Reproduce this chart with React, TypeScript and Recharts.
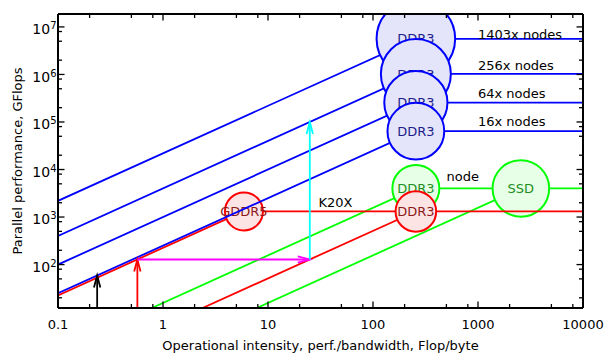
import React from 'react';
import { ComposedChart, Line, XAxis, YAxis, ReferenceDot, ReferenceLine } from 'recharts';

// ---- axes ----
const X_DOMAIN: [number, number] = [0.1, 10000];
const Y_DOMAIN: [number, number] = [12.2, 1.87e7];
const X_TICKS = [0.1, 0.2, 0.5, 0.8, 1, 2, 5, 8, 10, 20, 50, 80, 100, 200, 500, 800, 1000, 2000, 5000, 8000, 10000];
const Y_TICKS = [20, 50, 80, 100, 200, 500, 800, 1e3, 2e3, 5e3, 8e3, 1e4, 2e4, 5e4, 8e4, 1e5, 2e5, 5e5, 8e5, 1e6, 2e6, 5e6, 8e6, 1e7];
const X_TICK_LABELS: Record<string, string> = { '0.1': '0.1', '1': '1', '10': '10', '100': '100', '1000': '1000', '10000': '10000' };
const X_TITLE = 'Operational intensity, perf./bandwidth, Flop/byte';
const Y_TITLE = 'Parallel performance, GFlops';

// ---- rooflines (x: Flop/byte, y: GFlops) ----
const greenNode = [{ x: 0.781, y: 12.2 }, { x: 256, y: 4000 }, { x: 10000, y: 4000 }];
const greenSsd = [{ x: 7.81, y: 12.2 }, { x: 2560, y: 4000 }];
const redGddr5 = [{ x: 0.1, y: 22.5 }, { x: 5.82, y: 1310 }, { x: 10000, y: 1310 }];
const redDdr3 = [{ x: 2.38, y: 12.2 }, { x: 256, y: 1310 }];
const blue1403 = [{ x: 0.1, y: 2190 }, { x: 256, y: 5.61e6 }, { x: 10000, y: 5.61e6 }];
const blue256 = [{ x: 0.1, y: 400 }, { x: 256, y: 1.024e6 }, { x: 10000, y: 1.024e6 }];
const blue64 = [{ x: 0.1, y: 100 }, { x: 256, y: 2.56e5 }, { x: 10000, y: 2.56e5 }];
const blue16 = [{ x: 0.1, y: 25 }, { x: 256, y: 6.4e4 }, { x: 10000, y: 6.4e4 }];

// ---- memory circles ----
const greenCircles = [{ x: 256, y: 4000, label: 'DDR3' }, { x: 2560, y: 4000, label: 'SSD' }];
const redCircles = [{ x: 5.9, y: 1310, label: 'GDDR5' }, { x: 256, y: 1310, label: 'DDR3' }];
const blueCircles = [
  { x: 256, y: 5.61e6, label: 'DDR3' },
  { x: 256, y: 1.024e6, label: 'DDR3' },
  { x: 256, y: 2.56e5, label: 'DDR3' },
  { x: 256, y: 6.4e4, label: 'DDR3' },
];

// ---- arrows ----
const arrows = [
  { from: { x: 0.236, y: 12.2 }, to: { x: 0.236, y: 59 }, color: 'black' },
  { from: { x: 0.57, y: 12.2 }, to: { x: 0.57, y: 128 }, color: 'red' },
  { from: { x: 0.57, y: 128 }, to: { x: 25, y: 128 }, color: 'magenta' },
  { from: { x: 25, y: 128 }, to: { x: 25, y: 1.0e5 }, color: 'cyan' },
];

// ---- text annotations (anchor = start of baseline) ----
const annotations = [
  { x: 1000, y: 5.68e6, text: '1403x nodes' },
  { x: 1000, y: 1.25e6, text: '256x nodes' },
  { x: 1000, y: 3.27e5, text: '64x nodes' },
  { x: 1000, y: 8.04e4, text: '16x nodes' },
  { x: 501, y: 5620, text: 'node' },
  { x: 30.3, y: 1630, text: 'K20X' },
];

// ---- styles ----
const FONT = '"DejaVu Sans", sans-serif';
const COLORS: Record<string, string> = {
  black: '#000000', red: '#ff0000', magenta: '#ff00ff', cyan: '#00ffff', blue: '#0000ff', green: '#00ff00',
};
const GREEN_RADII = [23.5, 28.3];
const RED_RADII = [19, 20.3];
const BLUE_RADII = [39.3, 35, 31.6, 28.4];
const LW = 1.8;
const PLOT = { x: 58, y: 14, w: 525, h: 294 };

const isMajor = (v: number) => Math.abs(Math.log10(v) - Math.round(Math.log10(v))) < 1e-9;
const MAJ = 6.5;
const MIN = 4;
const TICK_W = 1.3;

const BottomTick = (p: any) => {
  const { x, y, payload } = p;
  const v = payload.value;
  const major = isMajor(v);
  return (
    <g>
      <line x1={x} x2={x} y1={y} y2={y - (major ? MAJ : MIN)} stroke="#000" strokeWidth={TICK_W} />
      {major && (
        <text x={x} y={y + 21} textAnchor="middle" fontSize={13} fontFamily={FONT} fill="#000">
          {X_TICK_LABELS[String(v)]}
        </text>
      )}
    </g>
  );
};
const TopTick = (p: any) => {
  const { x, y, payload } = p;
  const major = isMajor(payload.value);
  return <line x1={x} x2={x} y1={y} y2={y + (major ? MAJ : MIN)} stroke="#000" strokeWidth={TICK_W} />;
};
const LeftTick = (p: any) => {
  const { x, y, payload } = p;
  const v = payload.value;
  const major = isMajor(v);
  return (
    <g>
      <line x1={x} x2={x + (major ? MAJ : MIN)} y1={y} y2={y} stroke="#000" strokeWidth={TICK_W} />
      {major && (
        <text x={x - 1.5} y={y + 7.3} textAnchor="end" fontSize={14} fontFamily={FONT} fill="#000">
          10
          <tspan dy={-5} fontSize={10}>{Math.round(Math.log10(v))}</tspan>
        </text>
      )}
    </g>
  );
};
const RightTick = (p: any) => {
  const { x, y, payload } = p;
  const major = isMajor(payload.value);
  return <line x1={x} x2={x - (major ? MAJ : MIN)} y1={y} y2={y} stroke="#000" strokeWidth={TICK_W} />;
};

let clipCounter = 0;
const circleShape = (label: string, r: number, stroke: string, fill: string, textColor: string) => (p: any) => {
  const id = `plot-clip-${label}-${r}-${clipCounter++}`;
  return (
    <g>
      <defs>
        <clipPath id={id}>
          <rect x={PLOT.x} y={PLOT.y} width={PLOT.w} height={PLOT.h} />
        </clipPath>
      </defs>
      <g clipPath={`url(#${id})`}>
        <circle cx={p.cx} cy={p.cy} r={r} fill={fill} stroke={stroke} strokeWidth={2} />
        <text x={p.cx} y={p.cy} dy="0.35em" textAnchor="middle" fontSize={13} fontFamily={FONT} fill={textColor}>
          {label}
        </text>
      </g>
    </g>
  );
};

const arrowShape = (color: string) => (p: any) => {
  const { x1, y1, x2, y2 } = p;
  const ang = Math.atan2(y2 - y1, x2 - x1);
  const L = 12;
  const W = 3.2;
  const bx = x2 - L * Math.cos(ang);
  const by = y2 - L * Math.sin(ang);
  const nx = -Math.sin(ang) * W;
  const ny = Math.cos(ang) * W;
  return (
    <g>
      <line x1={x1} y1={y1} x2={x2} y2={y2} stroke={color} strokeWidth={LW} />
      <polyline
        points={`${bx + nx},${by + ny} ${x2},${y2} ${bx - nx},${by - ny}`}
        fill="none"
        stroke={color}
        strokeWidth={LW}
      />
    </g>
  );
};

const textShape = (text: string) => (p: any) => (
  <text x={p.cx} y={p.cy} textAnchor="start" fontSize={13} fontFamily={FONT} fill="#000">
    {text}
  </text>
);

const XTitle = (p: any) => {
  const vb = p.viewBox || { x: 58, y: 308, width: 525, height: 46 };
  return (
    <text x={vb.x + vb.width / 2} y={350} textAnchor="middle" fontSize={13} fontFamily={FONT} fill="#000">
      {X_TITLE}
    </text>
  );
};
const YTitle = (p: any) => {
  const vb = p.viewBox || { x: 0, y: 14, width: 58, height: 294 };
  const cy = vb.y + vb.height / 2;
  const cx = 21.5;
  return (
    <text x={cx} y={cy} transform={`rotate(-90, ${cx}, ${cy})`} textAnchor="middle" fontSize={13} fontFamily={FONT} fill="#000">
      {Y_TITLE}
    </text>
  );
};

const lineProps = {
  xAxisId: 'b',
  yAxisId: 'l',
  dataKey: 'y',
  dot: false,
  activeDot: false,
  isAnimationActive: false,
  strokeWidth: LW,
  type: 'linear' as const,
};

export default function App() {
  let z = 400;
  const nz = () => ++z;
  return (
    <div style={{ position: 'absolute', left: 0, top: 0, background: '#fff' }}>
      <ComposedChart width={606} height={354} margin={{ top: 0, right: 0, bottom: 0, left: 0 }} style={{ fontFamily: FONT }}>
        {/* green */}
        <Line {...lineProps} data={greenNode} stroke={COLORS.green} zIndex={nz()} />
        <Line {...lineProps} data={greenSsd} stroke={COLORS.green} zIndex={nz()} />
        {greenCircles.map((c, i) => (
          <ReferenceDot key={'g' + i} xAxisId="b" yAxisId="l" x={c.x} y={c.y} r={GREEN_RADII[i]} ifOverflow="hidden"
            zIndex={nz()} shape={circleShape(c.label, GREEN_RADII[i], '#00ff00', '#e6ffe6', '#1f8f1f')} />
        ))}
        {/* red */}
        <Line {...lineProps} data={redGddr5} stroke={COLORS.red} zIndex={nz()} />
        <Line {...lineProps} data={redDdr3} stroke={COLORS.red} zIndex={nz()} />
        {redCircles.map((c, i) => (
          <ReferenceDot key={'r' + i} xAxisId="b" yAxisId="l" x={c.x} y={c.y} r={RED_RADII[i]} ifOverflow="hidden"
            zIndex={nz()} shape={circleShape(c.label, RED_RADII[i], '#ff0000', '#fde4e4', '#8b1a1a')} />
        ))}
        {/* blue */}
        <Line {...lineProps} data={blue1403} stroke={COLORS.blue} zIndex={nz()} />
        <Line {...lineProps} data={blue256} stroke={COLORS.blue} zIndex={nz()} />
        <Line {...lineProps} data={blue64} stroke={COLORS.blue} zIndex={nz()} />
        <Line {...lineProps} data={blue16} stroke={COLORS.blue} zIndex={nz()} />
        {blueCircles.map((c, i) => (
          <ReferenceDot key={'b' + i} xAxisId="b" yAxisId="l" x={c.x} y={c.y} r={BLUE_RADII[i]} ifOverflow="hidden"
            zIndex={nz()} shape={circleShape(c.label, BLUE_RADII[i], '#0000ff', '#e4e4fa', '#1c1c8a')} />
        ))}
        {/* arrows */}
        {arrows.map((a, i) => (
          <ReferenceLine key={'a' + i} xAxisId="b" yAxisId="l" segment={[a.from, a.to]} ifOverflow="visible"
            zIndex={nz()} shape={arrowShape(COLORS[a.color])} />
        ))}
        {/* labels */}
        {annotations.map((t, i) => (
          <ReferenceDot key={'t' + i} xAxisId="b" yAxisId="l" x={t.x} y={t.y} r={0} ifOverflow="visible"
            zIndex={nz()} shape={textShape(t.text)} />
        ))}
        <XAxis xAxisId="b" orientation="bottom" dataKey="x" type="number" scale="log" domain={X_DOMAIN} allowDataOverflow
          ticks={X_TICKS} interval={0} tick={BottomTick} tickLine={false} tickSize={0} tickMargin={0} height={46}
          axisLine={{ stroke: '#000', strokeWidth: 2 }} label={XTitle} zIndex={900} />
        <XAxis xAxisId="t" orientation="top" dataKey="x" type="number" scale="log" domain={X_DOMAIN} allowDataOverflow
          ticks={X_TICKS} interval={0} tick={TopTick} tickLine={false} tickSize={0} tickMargin={0} height={14}
          axisLine={{ stroke: '#000', strokeWidth: 2 }} zIndex={900} />
        <YAxis yAxisId="l" orientation="left" type="number" scale="log" domain={Y_DOMAIN} allowDataOverflow
          ticks={Y_TICKS} interval={0} tick={LeftTick} tickLine={false} tickSize={0} tickMargin={0} width={58}
          axisLine={{ stroke: '#000', strokeWidth: 2 }} label={YTitle} zIndex={900} />
        <YAxis yAxisId="r" orientation="right" type="number" scale="log" domain={Y_DOMAIN} allowDataOverflow
          ticks={Y_TICKS} interval={0} tick={RightTick} tickLine={false} tickSize={0} tickMargin={0} width={23}
          axisLine={{ stroke: '#000', strokeWidth: 2 }} zIndex={900} />
      </ComposedChart>
    </div>
  );
}
